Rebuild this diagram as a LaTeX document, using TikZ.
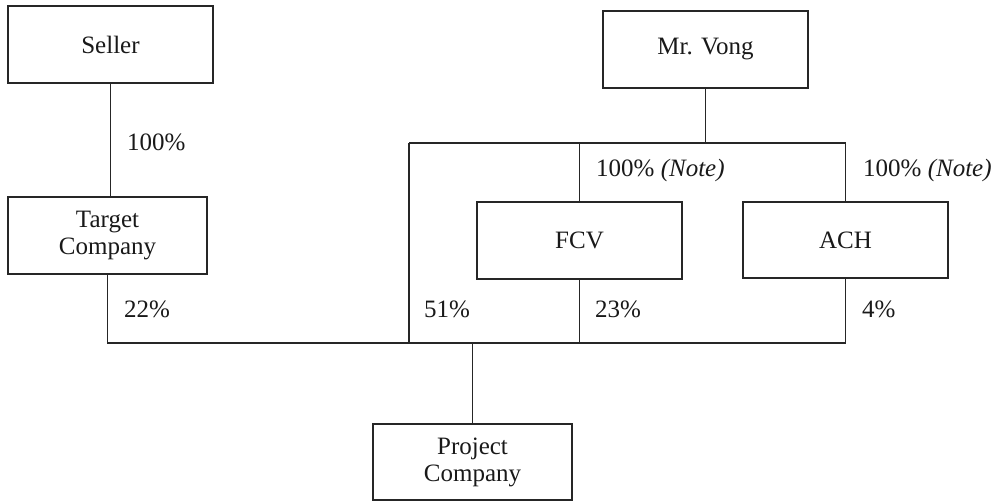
\documentclass[tikz,border=0pt]{standalone}
\usepackage{fontspec}
\setmainfont{Liberation Serif}
\begin{document}
\begin{tikzpicture}[x=1pt,y=-1pt,
  font=\fontsize{25}{27}\selectfont,
  conn/.style={draw=black!85, line width=1.2pt, line join=miter},
  box/.style={draw=black!85, line width=1.2pt, align=center, inner sep=0pt, text=black!90},
  pct/.style={anchor=base west, inner sep=0pt, text=black!90}]
\useasboundingbox (0,0) rectangle (1000,501);
% boxes
\node[box, minimum width=205pt, minimum height=77pt] (seller) at (110.5,44.5) {Seller};
\node[box, minimum width=199pt, minimum height=77pt] (target) at (107.5,235.5) {Target\\Company};
\node[box, minimum width=205pt, minimum height=77pt] (vong) at (705.5,49.5) {Mr. Vong};
\node[box, minimum width=205pt, minimum height=77pt] (fcv) at (579.5,240.5) {FCV};
\node[box, minimum width=205pt, minimum height=76pt] (ach) at (845.5,240) {ACH};
\node[box, minimum width=199pt, minimum height=76pt] (project) at (472.5,462) {Project\\Company};
% junction coordinates
\coordinate (tl) at (409,143);
\coordinate (bl) at (108,343);
% connectors
\draw[conn] (seller.south) -- (seller.south |- target.north);
\draw[conn] (vong.south) -- (vong.south |- tl);
\draw[conn] (tl) -- (ach.north |- tl) -- (ach.north);
\draw[conn] (fcv.north) -- (fcv.north |- tl);
\draw[conn] (tl) -- (tl |- bl);
\draw[conn] (target.south) -- (target.south |- bl) -- (ach.south |- bl) -- (ach.south);
\draw[conn] (fcv.south) -- (fcv.south |- bl);
\draw[conn] (project.north) -- (project.north |- bl);
% labels
\node[pct] (l1) at (127,150) {100\%};
\node[pct] (l2) at (596,176) {100\% \textit{(Note)}};
\node[pct] (l3) at (863,176) {100\% \textit{(Note)}};
\node[pct] (l4) at (124,317) {22\%};
\node[pct] (l5) at (424,317) {51\%};
\node[pct] (l6) at (595,317) {23\%};
\node[pct] (l7) at (862,317) {4\%};
\end{tikzpicture}
\end{document}
